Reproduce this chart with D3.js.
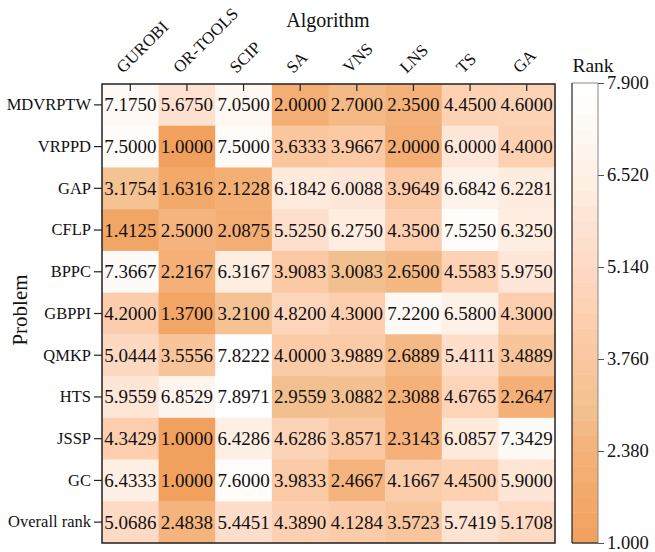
<!DOCTYPE html>
<html><head><meta charset="utf-8">
<script src="https://cdn.jsdelivr.net/npm/d3@7"></script>
<style>body{margin:0;background:#fff}svg{display:block}text{font-family:"Liberation Serif","Times New Roman",serif;fill:#111}</style>
</head><body>
<script>
const algorithms = ["GUROBI","OR-TOOLS","SCIP","SA","VNS","LNS","TS","GA"];
const problems = ["MDVRPTW","VRPPD","GAP","CFLP","BPPC","GBPPI","QMKP","HTS","JSSP","GC","Overall rank"];
const rankMDVRPTW = [7.1750,5.6750,7.0500,2.0000,2.7000,2.3500,4.4500,4.6000];
const rankVRPPD   = [7.5000,1.0000,7.5000,3.6333,3.9667,2.0000,6.0000,4.4000];
const rankGAP     = [3.1754,1.6316,2.1228,6.1842,6.0088,3.9649,6.6842,6.2281];
const rankCFLP    = [1.4125,2.5000,2.0875,5.5250,6.2750,4.3500,7.5250,6.3250];
const rankBPPC    = [7.3667,2.2167,6.3167,3.9083,3.0083,2.6500,4.5583,5.9750];
const rankGBPPI   = [4.2000,1.3700,3.2100,4.8200,4.3000,7.2200,6.5800,4.3000];
const rankQMKP    = [5.0444,3.5556,7.8222,4.0000,3.9889,2.6889,5.4111,3.4889];
const rankHTS     = [5.9559,6.8529,7.8971,2.9559,3.0882,2.3088,4.6765,2.2647];
const rankJSSP    = [4.3429,1.0000,6.4286,4.6286,3.8571,2.3143,6.0857,7.3429];
const rankGC      = [6.4333,1.0000,7.6000,3.9833,2.4667,4.1667,4.4500,5.9000];
const rankOverall = [5.0686,2.4838,5.4451,4.3890,4.1284,3.5723,5.7419,5.1708];
const colorbarTicks = [1.000,2.380,3.760,5.140,6.520,7.900];

const matrix = [rankMDVRPTW,rankVRPPD,rankGAP,rankCFLP,rankBPPC,rankGBPPI,rankQMKP,rankHTS,rankJSSP,rankGC,rankOverall];
const cells = [];
matrix.forEach((row,i)=>row.forEach((v,j)=>cells.push({p:problems[i],a:algorithms[j],v})));

const W=655,H=552;
const L=102,R=555,T=84,B=543;
const svg=d3.select("body").append("svg").attr("width",W).attr("height",H);

const x=d3.scaleBand().domain(algorithms).range([L,R]);
const y=d3.scaleBand().domain(problems).range([T,B]);

const vmin=1.0,vmax=7.9;
const anchorVals=[1.0,1.7,2.4,3.0,3.3,3.8,4.4,5.0,5.8,6.4,7.0,7.9];
const anchorCols=["#F1A05E","#F3AA6B","#F5B27B","#F2C08F","#F6C395","#FAC7A1","#FDD0B1","#FED8C1","#FEE3D3","#FEEFE3","#FEF7F1","#FFFFFF"];
const color=d3.scaleLinear().domain(anchorVals).range(anchorCols).interpolate(d3.interpolateRgb).clamp(true);

svg.append("g").selectAll("rect").data(cells).join("rect")
  .attr("x",d=>x(d.a)).attr("y",d=>y(d.p))
  .attr("width",x.bandwidth()+0.5).attr("height",y.bandwidth()+0.5)
  .attr("fill",d=>color(d.v));

svg.append("g").selectAll("text").data(cells).join("text")
  .attr("x",d=>x(d.a)+x.bandwidth()/2).attr("y",d=>y(d.p)+y.bandwidth()/2)
  .attr("text-anchor","middle").attr("dominant-baseline","central")
  .style("font-size","19px").text(d=>d.v.toFixed(4));

svg.append("rect").attr("x",L).attr("y",T).attr("width",R-L).attr("height",B-T)
  .attr("fill","none").attr("stroke","#222").attr("stroke-width",1.5);

// y axis
const yAxis=svg.append("g").attr("transform",`translate(${L},0)`)
  .call(d3.axisLeft(y).tickSize(8).tickPadding(3));
yAxis.select(".domain").remove();
yAxis.selectAll("line").attr("stroke","#222").attr("stroke-width",1.2);
yAxis.selectAll("text").style("font-size","16.5px").attr("fill","#111").style("font-family","Liberation Serif");

// x axis top, ticks inward
const xAxis=svg.append("g").attr("transform",`translate(0,${T})`)
  .call(d3.axisTop(x).tickSize(-7).tickFormat(""));
xAxis.select(".domain").remove();
xAxis.selectAll("line").attr("stroke","#222").attr("stroke-width",1.2);
svg.append("g").selectAll("text").data(algorithms).join("text")
  .attr("transform",d=>`translate(${x(d)+x.bandwidth()/2-7},74) rotate(-45)`)
  .attr("text-anchor","start").style("font-size","17px").text(d=>d);

svg.append("text").attr("x",328).attr("y",27).attr("text-anchor","middle")
  .style("font-size","20px").text("Algorithm");
svg.append("text").attr("transform","translate(27,310) rotate(-90)").attr("text-anchor","middle")
  .style("font-size","21px").text("Problem");

// colorbar
const cbL=572,cbR=598,cbT=83,cbB=543;
const cy=d3.scaleLinear().domain([vmin,vmax]).range([cbB,cbT]);
const nb=30;
const bands=d3.range(nb).map(i=>({lo:vmin+(vmax-vmin)*i/nb,hi:vmin+(vmax-vmin)*(i+1)/nb}));
svg.append("g").selectAll("rect").data(bands).join("rect")
  .attr("x",cbL).attr("width",cbR-cbL)
  .attr("y",d=>cy(d.hi)).attr("height",d=>cy(d.lo)-cy(d.hi)+0.5)
  .attr("fill",d=>color((d.lo+d.hi)/2));
svg.append("line").attr("x1",cbL).attr("x2",cbR).attr("y1",cbT).attr("y2",cbT).attr("stroke","#888").attr("stroke-width",1);
svg.append("line").attr("x1",cbR).attr("x2",cbR).attr("y1",cbT).attr("y2",cbB).attr("stroke","#888").attr("stroke-width",1);
svg.append("line").attr("x1",cbL).attr("x2",cbL).attr("y1",cbT).attr("y2",cbB).attr("stroke","#222").attr("stroke-width",1.2);
svg.append("line").attr("x1",cbL).attr("x2",cbR).attr("y1",cbB).attr("y2",cbB).attr("stroke","#222").attr("stroke-width",1.2);
const cAxis=svg.append("g").attr("transform",`translate(${cbR},0)`)
  .call(d3.axisRight(cy).tickValues(colorbarTicks).tickFormat(d3.format(".3f")).tickSize(6).tickPadding(3));
cAxis.select(".domain").remove();
cAxis.selectAll("line").attr("stroke","#555");
cAxis.selectAll("text").style("font-size","18.5px").attr("fill","#111").style("font-family","Liberation Serif");
svg.append("text").attr("x",593).attr("y",72).attr("text-anchor","middle").style("font-size","19.5px").text("Rank");
</script>
</body></html>
